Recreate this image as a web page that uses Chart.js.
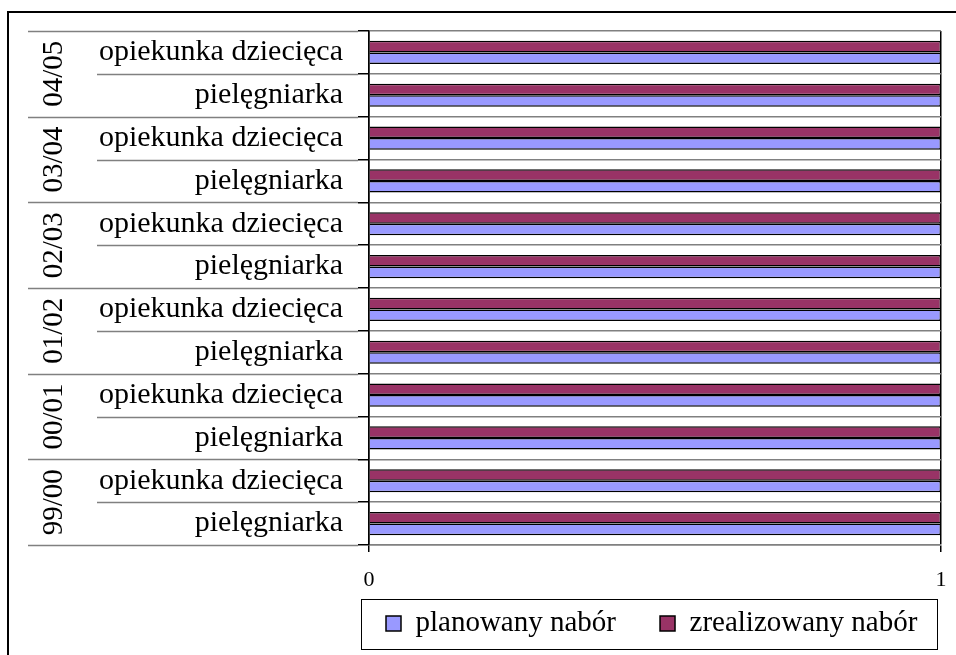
<!DOCTYPE html>
<html>
<head>
<meta charset="utf-8">
<script src="https://cdn.jsdelivr.net/npm/chart.js@4.4.1/dist/chart.umd.min.js"></script>
<style>
  html, body { margin: 0; padding: 0; background: #fff; }
  #wrap { position: relative; width: 956px; height: 655px; overflow: hidden; }
  #frame { position: absolute; left: 7px; top: 11px; width: 2000px; height: 2000px;
           border-left: 2px solid #000; border-top: 2px solid #000; pointer-events: none; }
  canvas { position: absolute; left: 0; top: 0; }
</style>
</head>
<body>
<div id="wrap">
  <canvas id="c" width="956" height="655"></canvas>
  <div id="frame"></div>
</div>
<script>
// ---- data (top row first) ----
const years = ['04/05', '03/04', '02/03', '01/02', '00/01', '99/00'];
const professions = ['opiekunka dziecięca', 'pielęgniarka'];
const categories = [
  'opiekunka dziecięca', 'pielęgniarka',   // 04/05
  'opiekunka dziecięca', 'pielęgniarka',   // 03/04
  'opiekunka dziecięca', 'pielęgniarka',   // 02/03
  'opiekunka dziecięca', 'pielęgniarka',   // 01/02
  'opiekunka dziecięca', 'pielęgniarka',   // 00/01
  'opiekunka dziecięca', 'pielęgniarka'    // 99/00
];
const planowany = [1, 1, 1, 1, 1, 1, 1, 1, 1, 1, 1, 1];
const zrealizowany = [1, 1, 1, 1, 1, 1, 1, 1, 1, 1, 1, 1];
const xTicks = [0, 1];

const SERIF = "'Liberation Serif', 'Times New Roman', serif";
const LEGEND_PAD = 44;

const groupPlugin = {
  id: 'groups',
  afterInit(chart) {
    const lg = chart.legend;
    if (lg) {
      const origFit = lg.fit;
      lg.fit = function () { origFit.call(this); this.height = 60; };
    }
  },
  afterLayout(chart) {
    const lg = chart.legend;
    if (lg) {
      lg.left = 386 - LEGEND_PAD;
      lg.right = 1100;
      lg.top = 609 - LEGEND_PAD;
    }
  },
  afterDraw(chart) {
    const ys = chart.scales.y;
    const ctx = chart.ctx;
    const tickLen = ys.options.grid.tickLength;
    const xEnd = ys.right - tickLen;
    const per = professions.length;
    ctx.save();
    // label-area separator lines
    ctx.strokeStyle = '#808080';
    ctx.lineWidth = 1.5;
    for (let i = 0; i <= categories.length; i++) {
      const py = Math.round(ys.getPixelForValue(i - 0.5)) + 0.5;
      const x0 = (i % per === 0) ? 28 : 97;
      ctx.beginPath();
      ctx.moveTo(x0, py);
      ctx.lineTo(xEnd, py);
      ctx.stroke();
    }
    // year group labels (rotated)
    ctx.fillStyle = '#000';
    ctx.font = '29px "Liberation Serif", serif';
    ctx.textAlign = 'center';
    ctx.textBaseline = 'middle';
    years.forEach((yr, k) => {
      const cy = ys.getPixelForValue(k * per + (per - 1) / 2);
      ctx.save();
      ctx.translate(54, cy);
      ctx.rotate(-Math.PI / 2);
      ctx.fillText(yr, 0, 0);
      ctx.restore();
    });
    // legend frame
    const lg = chart.legend;
    if (lg) {
      const cy = lg.top + LEGEND_PAD + 14.5;
      ctx.strokeStyle = '#000';
      ctx.lineWidth = 1;
      ctx.strokeRect(361.5, Math.round(cy - 25) + 0.5, 576, 50);
    }
    ctx.restore();
  }
};

new Chart(document.getElementById('c'), {
  type: 'bar',
  data: {
    labels: categories,
    datasets: [
      {
        label: 'zrealizowany nabór',
        data: zrealizowany,
        backgroundColor: '#993366',
        borderColor: '#000',
        borderWidth: 1.5
      },
      {
        label: 'planowany nabór',
        data: planowany,
        backgroundColor: '#9999FF',
        borderColor: '#000',
        borderWidth: 1.5
      }
    ]
  },
  options: {
    indexAxis: 'y',
    responsive: false,
    animation: false,
    devicePixelRatio: 1,
    layout: { padding: { top: 31, left: 10, right: 15, bottom: 0 } },
    datasets: { bar: { categoryPercentage: 0.54, barPercentage: 1.0 } },
    scales: {
      x: {
        type: 'linear',
        min: 0,
        max: 1,
        afterBuildTicks(scale) { scale.ticks = xTicks.map(v => ({ value: v })); },
        afterFit(scale) { scale.height = 50; scale.paddingLeft = 0; scale.paddingRight = 0; },
        ticks: { color: '#000', font: { family: SERIF, size: 22 }, padding: 15, maxRotation: 0 },
        grid: { color: '#000', lineWidth: 1.5, tickLength: 7, tickColor: '#000' },
        border: { color: '#808080', width: 1.5 }
      },
      y: {
        type: 'category',
        afterFit(scale) { scale.width = 359; scale.paddingTop = 0; scale.paddingBottom = 0; },
        ticks: { color: '#000', font: { family: SERIF, size: 30 }, padding: 15, autoSkip: false },
        grid: { offset: true, color: '#808080', lineWidth: 1.5, tickLength: 11, tickColor: '#000' },
        border: { color: '#000', width: 1.5 }
      }
    },
    plugins: {
      legend: {
        position: 'bottom',
        align: 'start',
        reverse: true,
        labels: {
          color: '#000',
          font: { family: SERIF, size: 29 },
          boxWidth: 15,
          boxHeight: 15,
          padding: LEGEND_PAD
        }
      },
      tooltip: { enabled: false },
      title: { display: false }
    }
  },
  plugins: [groupPlugin]
});
</script>
</body>
</html>
